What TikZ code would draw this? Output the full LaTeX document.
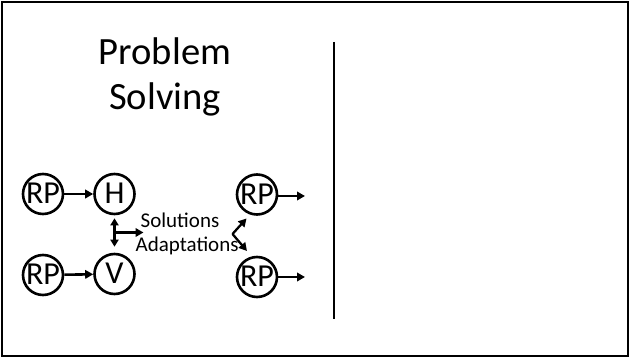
\documentclass[tikz,border=0pt]{standalone}
\usepackage{fontspec}
\setmainfont{Carlito}
\usetikzlibrary{arrows.meta}
\begin{document}
\begin{tikzpicture}[x=1pt,y=-1pt,
  rp/.style={circle,draw,line width=2.6pt,minimum size=40pt,inner sep=0pt,text height=20pt,text depth=0pt,font=\fontsize{32}{32}\selectfont},
  arr/.style={line width=2.6pt,-{Triangle[length=8pt,width=8.5pt]}},
  darr/.style={line width=2.6pt,{Triangle[length=7pt,width=8pt]}-{Triangle[length=7pt,width=8pt]}},
  title/.style={font=\fontsize{38.6}{38.6}\selectfont,inner sep=0pt,anchor=base},
  lbl/.style={font=\fontsize{21}{21}\selectfont,inner sep=0pt,anchor=base west}]
\useasboundingbox (0,0) rectangle (630,358);
\draw[line width=1.8pt] (2,2) rectangle (628,356);
\node[title] (t1) at (165,65) {Problem};
\node[title] (t2) at (165,110) {Solving};
\coordinate (vtop) at (334,42);
\coordinate (vbot) at (334,319);
\draw[line width=2pt] (vtop) -- (vbot);
\node[rp] (rp1) at (43,194) {\makebox[0pt]{RP}};
\node[rp] (h) at (114.5,194) {\makebox[0pt]{H}};
\node[rp] (rp2) at (43,275) {\makebox[0pt]{RP}};
\node[rp] (v) at (114.5,274) {\makebox[0pt]{V}};
\node[rp] (rp3) at (257,194.5) {\makebox[0pt]{RP}};
\node[rp] (rp4) at (257,277) {\makebox[0pt]{RP}};
\draw[arr] (rp1) -- (h);
\draw[arr] (rp2) -- (v);
\draw[darr,shorten <=3pt,shorten >=6pt] (h) -- (v);
\coordinate (mid) at (114.5,232.5);
\coordinate (solend) at (143.5,232.5);
\draw[arr] (mid) -- (solend);
\node[lbl] (sol) at (140.5,228) {Solutions};
\node[lbl] (ada) at (135.5,252) {Adaptations};
\coordinate (bend) at (232.5,234);
\coordinate (tipa) at (246.5,218.5);
\coordinate (tipb) at (247,251);
\draw[arr,line width=2.3pt] (bend) -- (tipa);
\draw[arr,line width=2.3pt] (bend) -- (tipb);
\coordinate (e3) at (305,196);
\coordinate (e4) at (305,277);
\draw[arr] (rp3.east |- e3) -- (e3);
\draw[arr] (rp4) -- (e4);
\end{tikzpicture}
\end{document}
